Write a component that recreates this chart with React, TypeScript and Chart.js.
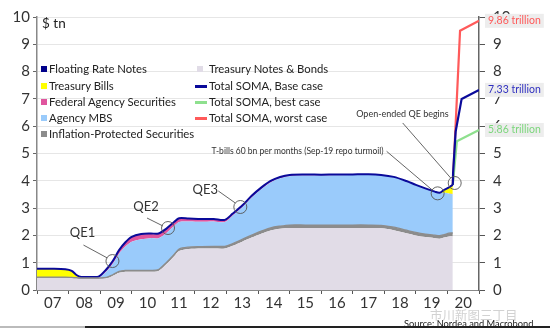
import React, { useEffect, useRef } from "react";
import { Chart, registerables } from "chart.js";
Chart.register(...registerables);

// ---- data ($ tn) ----
const dates = [2007.0, 2007.5, 2007.9, 2008.1, 2008.25, 2008.4, 2008.7, 2008.95, 2009.2, 2009.4, 2009.6, 2009.8, 2010.0, 2010.3, 2010.6, 2010.85, 2011.1, 2011.35, 2011.5, 2011.8, 2012.2, 2012.6, 2012.95, 2013.2, 2013.5, 2013.8, 2014.1, 2014.4, 2014.7, 2015.0, 2015.5, 2016.0, 2016.5, 2017.0, 2017.5, 2017.9, 2018.3, 2018.7, 2019.0, 2019.3, 2019.6, 2019.75, 2019.9, 2020.05, 2020.17];
const treasuryNotesBonds = [0.44, 0.44, 0.44, 0.43, 0.42, 0.41, 0.41, 0.41, 0.43, 0.52, 0.63, 0.67, 0.67, 0.67, 0.67, 0.70, 0.95, 1.25, 1.43, 1.50, 1.52, 1.52, 1.52, 1.62, 1.77, 1.92, 2.06, 2.18, 2.24, 2.27, 2.27, 2.27, 2.27, 2.27, 2.27, 2.26, 2.19, 2.08, 2.00, 1.94, 1.90, 1.88, 1.92, 1.96, 1.97];
const inflationProtected = [0.03, 0.03, 0.03, 0.03, 0.03, 0.03, 0.03, 0.03, 0.03, 0.04, 0.05, 0.05, 0.05, 0.05, 0.05, 0.05, 0.06, 0.06, 0.07, 0.07, 0.07, 0.08, 0.08, 0.08, 0.09, 0.09, 0.10, 0.10, 0.10, 0.11, 0.11, 0.11, 0.11, 0.11, 0.11, 0.11, 0.11, 0.11, 0.11, 0.11, 0.11, 0.11, 0.11, 0.12, 0.12];
const agencyMBS = [0, 0, 0, 0, 0, 0, 0, 0.01, 0.22, 0.40, 0.65, 0.87, 1.05, 1.14, 1.18, 1.15, 1.08, 1.04, 0.99, 0.94, 0.91, 0.91, 0.89, 1.03, 1.17, 1.38, 1.53, 1.66, 1.75, 1.79, 1.81, 1.81, 1.82, 1.83, 1.84, 1.83, 1.83, 1.79, 1.73, 1.66, 1.58, 1.55, 1.53, 1.45, 1.42];
const federalAgency = [0, 0, 0, 0, 0, 0, 0.01, 0.02, 0.06, 0.08, 0.11, 0.14, 0.16, 0.17, 0.15, 0.15, 0.14, 0.13, 0.12, 0.11, 0.10, 0.09, 0.08, 0.07, 0.065, 0.06, 0.05, 0.045, 0.04, 0.035, 0.03, 0.025, 0.02, 0.015, 0.01, 0.005, 0.003, 0.002, 0.002, 0.002, 0.002, 0.002, 0.002, 0.002, 0.002];
const treasuryBills = [0.31, 0.31, 0.29, 0.24, 0.10, 0.04, 0.03, 0.02, 0.02, 0.02, 0.02, 0.02, 0.02, 0.02, 0.02, 0.02, 0.02, 0.02, 0.02, 0, 0, 0, 0, 0, 0, 0, 0, 0, 0, 0, 0, 0, 0, 0, 0, 0, 0, 0, 0, 0, 0, 0.01, 0.10, 0.22, 0.32];
const floatingRateNotes = [0, 0, 0, 0, 0, 0, 0, 0, 0, 0, 0, 0, 0, 0, 0, 0, 0, 0, 0, 0, 0, 0, 0, 0, 0, 0, 0.01, 0.01, 0.01, 0.01, 0.01, 0.01, 0.01, 0.01, 0.01, 0.01, 0.01, 0.01, 0.01, 0.01, 0.01, 0.01, 0.01, 0.01, 0.02];

const baseDates = [2020.17, 2020.18, 2020.26, 2020.45, 2021.0];
const baseCase = [3.85, 4.3, 5.8, 7.0, 7.33];
const bestDates = [2020.17, 2020.3, 2021.0];
const bestCase = [3.85, 5.45, 5.86];
const worstDates = [2020.17, 2020.4, 2021.0];
const worstCase = [3.85, 9.5, 9.86];

const yearTicks = [2007, 2008, 2009, 2010, 2011, 2012, 2013, 2014, 2015, 2016, 2017, 2018, 2019, 2020];

const annText = ["QE1", "QE2", "QE3", "T-bills 60 bn per months (Sep-19 repo turmoil)", "Open-ended QE begins"];
const annX = [2009.39, 2011.15, 2013.44, 2019.69, 2020.23];
const annY = [1.06, 2.27, 3.04, 3.54, 3.92];

const endLabels = ["9.86 trillion", "7.33 trillion", "5.86 trillion"];
const endValues = [9.86, 7.33, 5.86];

const FONT = "Lato, 'Open Sans', sans-serif";
const C = {
  tnb: "#E1DCE7",
  tips: "#8C8C8C",
  mbs: "#9ACBFB",
  agy: "#E0559E",
  tb: "#FFFF00",
  frn: "#00008B",
  base: "#0A0A9A",
  best: "#8EE08E",
  worst: "#FF5A5A",
};

const xy = (xs: number[], ys: number[]) => xs.map((x, i) => ({ x, y: ys[i] }));

const annotationPlugin = {
  id: "annots",
  afterDatasetsDraw(chart: any) {
    const { ctx, scales, chartArea } = chart;
    const xs = scales.x, ys = scales.y;
    ctx.save();
    const layout = [
      { tx: -30, ty: -28, align: "center", size: 13, l: [-29, -16, -5, -3] },
      { tx: -22, ty: -21, align: "center", size: 13, l: [-21, -10, -5, -2] },
      { tx: -35, ty: -17, align: "center", size: 13, l: [-22, -16, -5, -4] },
      { tx: -54, ty: -42, align: "right", size: 8.5, l: [-51, -42, -5, -3] },
      { tx: -6, ty: -69, align: "right", size: 9, l: [-52, -60, -4, -5] },
    ];
    annText.forEach((t, i) => {
      const px = xs.getPixelForValue(annX[i]);
      const py = ys.getPixelForValue(annY[i]);
      const L = layout[i];
      ctx.strokeStyle = "#555";
      ctx.lineWidth = 0.9;
      ctx.beginPath();
      ctx.arc(px, py, 6.5, 0, Math.PI * 2);
      ctx.stroke();
      ctx.beginPath();
      ctx.moveTo(px + L.l[0], py + L.l[1]);
      ctx.lineTo(px + L.l[2], py + L.l[3]);
      ctx.stroke();
      ctx.fillStyle = "#333";
      ctx.font = `${L.size}px ${FONT}`;
      ctx.textAlign = L.align;
      ctx.textBaseline = "middle";
      ctx.fillText(t, px + L.tx, py + L.ty);
    });
    const cols = [C.worst, "#3030C0", "#7CD67C"];
    ctx.font = `10.5px ${FONT}`;
    ctx.textAlign = "left";
    ctx.textBaseline = "middle";
    endLabels.forEach((t, i) => {
      const py = ys.getPixelForValue(endValues[i]);
      const x0 = chartArea.right + 6;
      const w = ctx.measureText(t).width;
      ctx.fillStyle = "rgba(236,236,236,0.95)";
      ctx.fillRect(x0, py - 7, w + 6, 14);
      ctx.fillStyle = cols[i];
      ctx.fillText(t, x0 + 3, py);
    });
    ctx.restore();
  },
};

const legendLeft = [
  { label: "Floating Rate Notes", color: C.frn },
  { label: "Treasury Bills", color: C.tb },
  { label: "Federal Agency Securities", color: C.agy },
  { label: "Agency MBS", color: C.mbs },
  { label: "Inflation-Protected Securities", color: C.tips },
];
const legendRight = [
  { label: "Treasury Notes & Bonds", color: C.tnb, line: false },
  { label: "Total SOMA, Base case", color: C.base, line: true },
  { label: "Total SOMA, best case", color: C.best, line: true },
  { label: "Total SOMA, worst case", color: C.worst, line: true },
];

export default function App() {
  const ref = useRef<HTMLCanvasElement | null>(null);
  useEffect(() => {
    document.body.style.margin = "0";
    const area = (label: string, data: number[], color: string, fill: any, extra: any = {}) => ({
      label,
      data: xy(dates, data),
      backgroundColor: color,
      borderColor: color,
      borderWidth: 0,
      fill,
      pointRadius: 0,
      tension: 0.3,
      stack: "soma",
      ...extra,
    });
    const line = (label: string, xs: number[], ys: number[], color: string) => ({
      label,
      data: xy(xs, ys),
      borderColor: color,
      backgroundColor: color,
      borderWidth: 2.2,
      fill: false,
      pointRadius: 0,
      tension: 0,
      stack: label,
    });
    const chart = new Chart(ref.current!, {
      type: "line",
      data: {
        datasets: [
          area("Treasury Notes & Bonds", treasuryNotesBonds, C.tnb, "origin"),
          area("Inflation-Protected Securities", inflationProtected, C.tips, "-1", { borderWidth: 1.3, borderColor: C.tips }),
          area("Agency MBS", agencyMBS, C.mbs, "-1"),
          area("Federal Agency Securities", federalAgency, C.agy, "-1"),
          area("Treasury Bills", treasuryBills, C.tb, "-1"),
          area("Floating Rate Notes", floatingRateNotes, C.frn, "-1", { borderWidth: 2, borderColor: C.base }),
          line("Total SOMA, Base case", baseDates, baseCase, C.base),
          line("Total SOMA, best case", bestDates, bestCase, C.best),
          line("Total SOMA, worst case", worstDates, worstCase, C.worst),
        ],
      },
      options: {
        animation: false,
        responsive: false,
        maintainAspectRatio: false,
        layout: { padding: { top: 17, left: 0, right: 0, bottom: 0 } },
        plugins: {
          legend: { display: false },
          tooltip: { enabled: false },
          filler: { drawTime: "beforeDatasetsDraw" },
        },
        scales: {
          x: {
            type: "linear",
            min: 2007,
            max: 2021,
            afterBuildTicks: (s: any) => {
              s.ticks = yearTicks.map((y) => ({ value: y + 0.5 }));
            },
            afterFit: (s: any) => {
              s.height = 38;
            },
            grid: { offset: true, drawOnChartArea: false, drawTicks: true, tickLength: 4, tickColor: "#555", color: "#555" },
            border: { display: true, color: "#888", width: 1 },
            ticks: {
              autoSkip: false,
              maxRotation: 0,
              padding: 0,
              color: "#333",
              font: { family: FONT, size: 15 },
              callback: (v: any) => String(Math.floor(Number(v)) % 100).padStart(2, "0"),
            },
          },
          y: {
            stacked: true,
            position: "left",
            min: 0,
            max: 10,
            afterFit: (s: any) => {
              s.width = 37;
            },
            grid: { color: "#E6E6E6", lineWidth: 1, tickColor: "#666", tickLength: 4 },
            border: { display: true, color: "#888", width: 1.5 },
            ticks: { stepSize: 1, padding: 3, color: "#333", font: { family: FONT, size: 15 } },
          },
          y2: {
            position: "right",
            min: 0,
            max: 10,
            afterFit: (s: any) => {
              s.width = 71;
            },
            grid: { drawOnChartArea: false, tickColor: "#555", tickLength: 6 },
            border: { display: true, color: "#666", width: 1.5 },
            ticks: { stepSize: 1, padding: 8, color: "#333", font: { family: FONT, size: 15 } },
          },
        },
      },
      plugins: [annotationPlugin],
    } as any);
    return () => chart.destroy();
  }, []);

  const legText: React.CSSProperties = {
    position: "absolute",
    fontFamily: FONT,
    fontSize: 11.3,
    color: "#222",
    lineHeight: "16px",
    whiteSpace: "nowrap",
  };
  const rows = [69, 86, 102, 118, 134];
  return (
    <div style={{ position: "fixed", left: 0, top: 0, width: 550, height: 328, background: "#fff", overflow: "hidden" }}>
      <canvas ref={ref} width={550} height={328} style={{ position: "absolute", left: 0, top: 0, width: 550, height: 328 }} />
      <div style={{ ...legText, left: 42, top: 14, fontSize: 13.5, lineHeight: "18px" }}>$ tn</div>
      {legendLeft.map((it, i) => (
        <React.Fragment key={it.label}>
          <div style={{ position: "absolute", left: 41, top: rows[i] - 3, width: 6, height: 6, background: it.color }} />
          <div style={{ ...legText, left: 49, top: rows[i] - 8 }}>{it.label}</div>
        </React.Fragment>
      ))}
      {legendRight.map((it, i) => (
        <React.Fragment key={it.label}>
          {it.line ? (
            <div style={{ position: "absolute", left: 195, top: rows[i] - 1.5, width: 12, height: 3, background: it.color }} />
          ) : (
            <div style={{ position: "absolute", left: 197, top: rows[i] - 3, width: 6, height: 6, background: it.color }} />
          )}
          <div style={{ ...legText, left: 209, top: rows[i] - 8 }}>{it.label}</div>
        </React.Fragment>
      ))}
      <div style={{ ...legText, left: 430, top: 306, fontSize: 12.5, lineHeight: "18px", color: "#d2d2d2", fontFamily: "'Noto Sans CJK SC', sans-serif" }}>市川新图三丁目</div>
      <div style={{ ...legText, left: 404, top: 317, fontSize: 9.3, color: "#222", lineHeight: "14px" }}>Source: Nordea and Macrobond</div>
      <div style={{ position: "absolute", left: 0, top: 326, width: 85, height: 2, background: "#bbb" }} />
      <div style={{ position: "absolute", left: 85, top: 326, width: 465, height: 2, background: "#222" }} />
    </div>
  );
}
